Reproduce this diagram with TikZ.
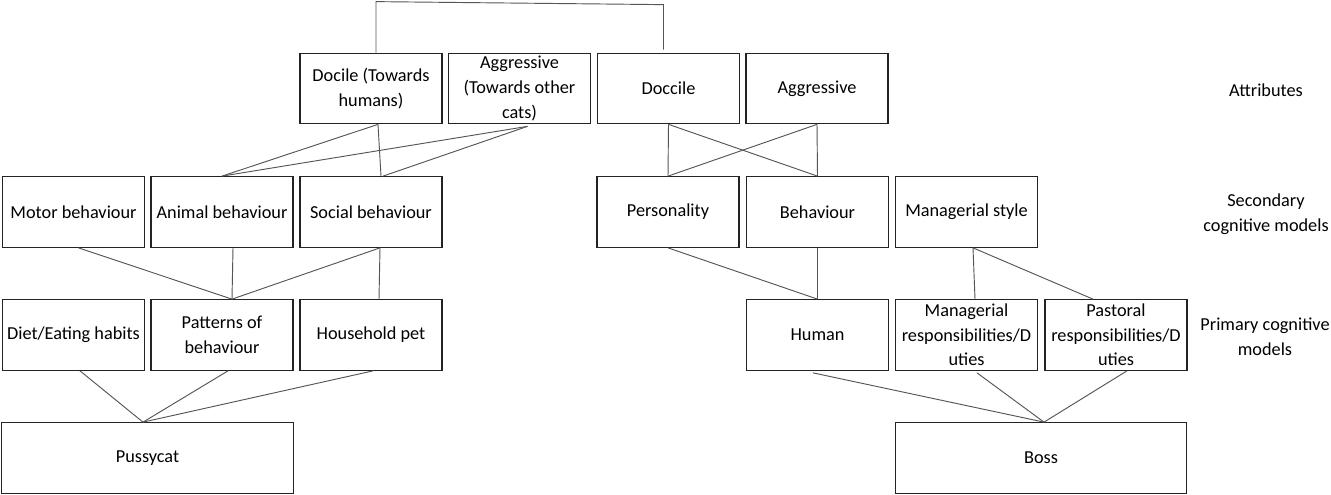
\documentclass[tikz,border=0pt]{standalone}
\usepackage{fontspec}
\setmainfont{Carlito}
\usepackage{tikz}
\usetikzlibrary{calc}
\definecolor{cbox}{RGB}{35,35,35}
\definecolor{cline}{RGB}{85,85,85}
\tikzset{
  box/.style={rectangle,draw=cbox,line width=0.8pt,minimum width=106.5pt,
              minimum height=53pt,inner sep=0pt,align=center,
              font=\fontsize{13.7}{18.5}\selectfont},
  widebox/.style={box,minimum width=218.5pt},
  level/.style={align=center,inner sep=0pt,font=\fontsize{13.7}{18.5}\selectfont},
  link/.style={draw=cline,line width=0.7pt},
}
\begin{document}
\begin{tikzpicture}[x=0.75pt,y=-0.75pt]
  \path[fill=white,use as bounding box] (0,0) rectangle (1331,495);
  % attributes
  \node[box] (docA) at (371,88.5)   {Docile (Towards\\humans)};
  \node[box] (aggA) at (519.5,88.5) {Aggressive\\(Towards other\\cats)};
  \node[box] (docB) at (668.5,88.5) {Doccile};
  \node[box] (aggB) at (817,88.5)   {Aggressive};
  % secondary cognitive models
  \node[box] (motor)  at (73.5,212)  {Motor behaviour};
  \node[box] (animal) at (222,212)   {Animal behaviour};
  \node[box] (social) at (371,212)   {Social behaviour};
  \node[box] (person) at (668,212)   {Personality};
  \node[box] (behav)  at (817.5,212) {Behaviour};
  \node[box] (mstyle) at (966.5,212) {Managerial style};
  % primary cognitive models
  \node[box] (diet)  at (73.5,335)  {Diet/Eating habits};
  \node[box] (patt)  at (222,335)   {Patterns of\\behaviour};
  \node[box] (pet)   at (371,335)   {Household pet};
  \node[box] (human) at (817.5,335) {Human};
  \node[box] (mresp) at (966.5,335) {Managerial\\responsibilities/D\\uties};
  \node[box] (presp) at (1116,335)  {Pastoral\\responsibilities/D\\uties};
  % targets
  \node[widebox] (puss) at (147.5,458) {Pussycat};
  \node[widebox] (boss) at (1041,458)  {Boss};
  % level names
  \node[level] (lattr) at (1266,90)  {Attributes};
  \node[level] (lsec)  at (1266,214) {Secondary\\cognitive models};
  \node[level] (lprim) at (1265,337) {Primary cognitive\\models};
  % top bracket
  \draw[link] ($(docA.north)+(5,0)$) -- ++(0,-51) -- ($(docB.north)+(-5,-48)$)
              -- ($(docB.north)+(-5,-3)$);
  % attributes to secondary
  \draw[link] ($(docA.south)+(7,0)$) -- (animal.north);
  \draw[link] ($(docA.south)+(7,0)$) -- ($(social.north)+(10,0)$);
  \draw[link] ($(aggA.south)+(8,2)$) -- (animal.north);
  \draw[link] ($(aggA.south)+(8,2)$) -- ($(social.north)+(12,0)$);
  \draw[link] (docB.south) -- (person.north);
  \draw[link] (docB.south) -- (behav.north);
  \draw[link] (aggB.south) -- (person.north);
  \draw[link] (aggB.south) -- (behav.north);
  % secondary to primary
  \draw[link] ($(motor.south)+(5,0)$)  -- ($(patt.north)+(10,0)$);
  \draw[link] ($(animal.south)+(11,0)$) -- ($(patt.north)+(10,0)$);
  \draw[link] ($(social.south)+(9,0)$) -- ($(patt.north)+(10,0)$);
  \draw[link] ($(social.south)+(9,0)$) -- ($(pet.north)+(8,0)$);
  \draw[link] (person.south) -- (human.north);
  \draw[link] (behav.south)  -- (human.north);
  \draw[link] ($(mstyle.south)+(6.5,0)$) -- ($(mresp.north)+(8.5,0)$);
  \draw[link] ($(mstyle.south)+(6.5,0)$) -- ($(presp.north)+(-23,0)$);
  % primary to targets
  \draw[link] ($(diet.south)+(6.5,0)$) -- ($(puss.north)+(-4.5,0)$);
  \draw[link] ($(patt.south)+(6,0)$)   -- ($(puss.north)+(-4.5,0)$);
  \draw[link] ($(pet.south)+(2,0)$)    -- ($(puss.north)+(-4.5,0)$);
  \draw[link] ($(human.south)+(-4.5,2)$) -- ($(boss.north)+(3,0)$);
  \draw[link] ($(mresp.south)+(10.5,2)$) -- ($(boss.north)+(3,0)$);
  \draw[link] ($(presp.south)+(11,0)$)   -- ($(boss.north)+(3,0)$);
\end{tikzpicture}
\end{document}
